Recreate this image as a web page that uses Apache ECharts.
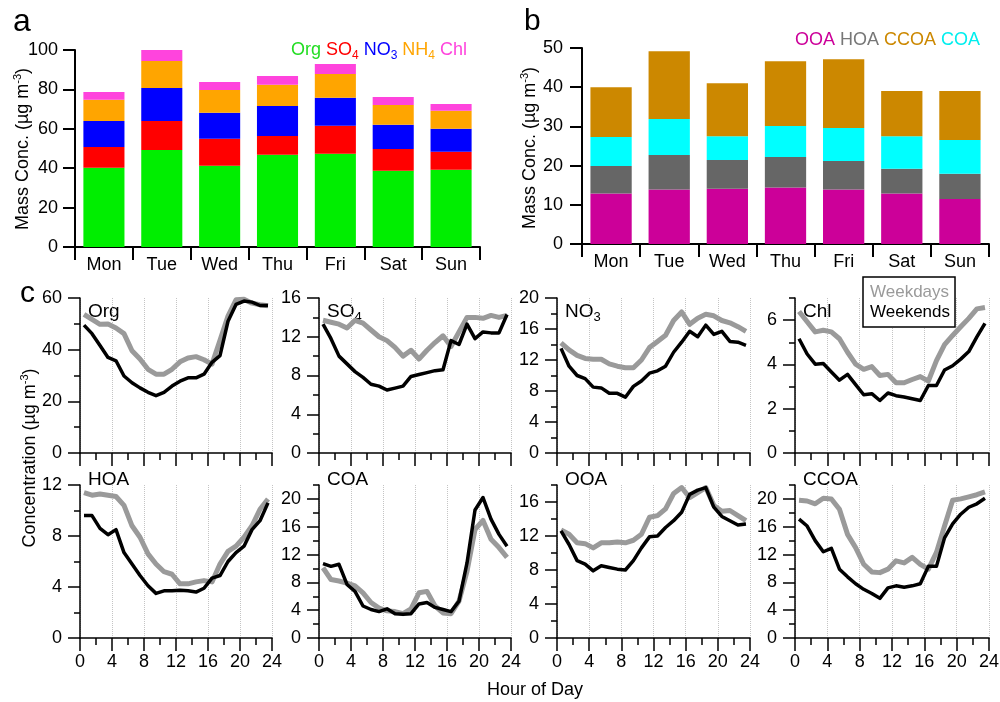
<!DOCTYPE html>
<html><head><meta charset="utf-8">
<script src="https://cdn.jsdelivr.net/npm/echarts@6/dist/echarts.min.js"></script>
<style>html,body{margin:0;padding:0;background:#fff}#chart{width:1000px;height:702px}</style>
</head><body><div id="chart"></div>
<script>
const F = '"Liberation Sans", Arial, sans-serif';

// ---- Panel a: PM1 species by day of week (µg m-3)
const days = ['Mon', 'Tue', 'Wed', 'Thu', 'Fri', 'Sat', 'Sun'];
const orgA = [40.2, 49.3, 41.2, 46.8, 47.3, 38.7, 39.2];
const so4A = [10.6, 14.7, 13.7, 9.6, 14.2, 11.1, 9.1];
const no3A = [13.2, 16.7, 13.2, 15.2, 14.2, 12.2, 11.7];
const nh4A = [10.7, 13.7, 11.6, 10.7, 12.1, 10.1, 9.1];
const chlA = [4.0, 5.6, 4.1, 4.5, 5.1, 4.1, 3.5];

// ---- Panel b: OA factors by day of week (µg m-3)
const ooaB = [12.9, 13.9, 14.1, 14.4, 13.9, 12.9, 11.5];
const hoaB = [7.0, 8.8, 7.3, 7.8, 7.3, 6.3, 6.4];
const coaB = [7.4, 9.2, 6.1, 7.9, 8.4, 8.3, 8.6];
const ccoaB = [12.7, 17.3, 13.5, 16.5, 17.5, 11.5, 12.5];

// ---- Panel c: diurnal cycles, hour of day (bin start), weekdays vs weekends
const hours = [0,1,2,3,4,5,6,7,8,9,10,11,12,13,14,15,16,17,18,19,20,21,22,23];
const orgWd = [53.7, 51.7, 49.8, 49.9, 48.4, 46.2, 39.6, 36.4, 32.4, 30.5, 30.5, 32.4, 35.3, 36.8, 37.3, 36.1, 34.4, 43.6, 53.0, 59.3, 59.5, 58.0, 57.4, 57.0];
const orgWe = [49.5, 46.2, 41.6, 37.0, 35.7, 29.8, 27.2, 25.2, 23.5, 22.2, 23.5, 25.9, 27.8, 29.1, 29.1, 30.5, 35.1, 37.7, 51.0, 57.5, 58.8, 58.4, 57.1, 57.1];
const so4Wd = [13.7, 13.5, 13.3, 12.9, 13.7, 13.4, 12.7, 12.0, 11.6, 10.9, 10.0, 10.6, 9.7, 10.6, 11.4, 12.1, 11.0, 12.5, 14.0, 14.0, 13.9, 14.2, 14.0, 14.2];
const so4We = [13.3, 11.8, 10.0, 9.2, 8.4, 7.8, 7.1, 6.9, 6.5, 6.7, 6.9, 7.9, 8.1, 8.3, 8.5, 8.6, 11.6, 11.2, 13.3, 11.8, 12.5, 12.4, 12.4, 14.3];
const no3Wd = [14.2, 13.3, 12.6, 12.2, 12.1, 12.1, 11.5, 11.2, 11.0, 11.0, 12.0, 13.6, 14.4, 15.2, 17.1, 18.2, 16.6, 17.4, 17.9, 17.7, 17.1, 16.8, 16.3, 15.7];
const no3We = [13.5, 11.2, 10.0, 9.6, 8.5, 8.4, 7.7, 7.7, 7.2, 8.6, 9.3, 10.3, 10.6, 11.2, 13.0, 14.3, 15.7, 15.0, 16.5, 15.3, 15.7, 14.4, 14.3, 13.9];
const chlWd = [6.39, 5.93, 5.47, 5.54, 5.47, 5.16, 4.55, 4.01, 3.78, 3.90, 3.50, 3.55, 3.17, 3.17, 3.32, 3.45, 3.25, 4.17, 4.89, 5.31, 5.70, 6.08, 6.51, 6.57];
const chlWe = [5.16, 4.47, 4.01, 4.04, 3.66, 3.29, 3.55, 3.09, 2.63, 2.68, 2.37, 2.71, 2.59, 2.53, 2.45, 2.37, 3.05, 3.05, 3.75, 3.94, 4.24, 4.58, 5.24, 5.85];
const hoaWd = [11.4, 11.2, 11.3, 11.2, 11.1, 10.4, 8.8, 7.9, 6.6, 5.8, 5.2, 5.0, 4.25, 4.25, 4.4, 4.5, 4.4, 5.8, 6.8, 7.2, 7.9, 8.8, 10.1, 10.9];
const hoaWe = [9.6, 9.6, 8.6, 8.1, 8.5, 6.7, 5.8, 4.9, 4.1, 3.5, 3.7, 3.7, 3.75, 3.7, 3.6, 3.9, 4.7, 4.9, 6.0, 6.7, 7.2, 8.5, 9.2, 10.6];
const coaWd = [10.1, 8.4, 8.2, 7.9, 7.5, 6.5, 5.1, 4.3, 3.9, 3.8, 3.5, 4.2, 6.5, 6.7, 4.6, 3.6, 3.5, 5.3, 9.6, 15.6, 16.9, 14.2, 13.0, 11.6];
const coaWe = [10.7, 10.3, 10.6, 7.7, 6.7, 4.6, 4.1, 3.8, 4.2, 3.5, 3.4, 3.5, 4.9, 5.1, 4.4, 4.1, 3.8, 5.3, 10.8, 18.4, 20.2, 17.1, 14.9, 13.2];
const ooaWd = [12.7, 12.2, 11.2, 11.1, 10.6, 11.2, 11.2, 11.3, 11.2, 11.5, 12.2, 14.2, 14.4, 15.2, 17.0, 17.7, 16.5, 17.1, 17.7, 15.6, 14.9, 15.0, 14.4, 13.8];
const ooaWe = [12.6, 11.0, 9.1, 8.7, 7.9, 8.5, 8.3, 8.1, 8.0, 9.1, 10.6, 11.9, 12.0, 13.0, 13.8, 14.8, 16.9, 17.4, 17.7, 15.4, 14.3, 13.8, 13.3, 13.4];
const ccoaWd = [19.8, 19.7, 19.3, 20.1, 20.0, 18.5, 14.9, 13.0, 10.6, 9.5, 9.4, 9.9, 11.1, 10.8, 11.6, 10.6, 9.9, 12.3, 16.1, 19.8, 20.0, 20.3, 20.6, 21.0];
const ccoaWe = [17.1, 16.1, 14.0, 12.4, 12.9, 9.9, 8.8, 7.8, 7.0, 6.4, 5.7, 7.2, 7.5, 7.3, 7.5, 7.8, 10.3, 10.3, 14.4, 16.4, 17.8, 18.8, 19.3, 20.1];

// axis tick settings for the eight small panels
const panelNames = ['Org', 'SO{s|4}', 'NO{s|3}', 'Chl', 'HOA', 'COA', 'OOA', 'CCOA'];
const panelMax = [60, 16, 20, 7, 12, 22, 18, 22];
const panelMinorStep = [10, 2, 2, 1, 2, 2, 2, 2];
const panelMajorTicks = [
  [0, 20, 40, 60], [0, 4, 8, 12, 16], [0, 4, 8, 12, 16, 20], [0, 2, 4, 6],
  [0, 4, 8, 12], [0, 4, 8, 12, 16, 20], [0, 4, 8, 12, 16], [0, 4, 8, 12, 16, 20]
];
const weekdaySeries = [orgWd, so4Wd, no3Wd, chlWd, hoaWd, coaWd, ooaWd, ccoaWd];
const weekendSeries = [orgWe, so4We, no3We, chlWe, hoaWe, coaWe, ooaWe, ccoaWe];
const hourTicks = [0, 4, 8, 12, 16, 20, 24];

// layout
const colLeft = [80, 319, 557, 795];
const colWidth = [192, 192, 193, 194];
const rowTop = [298, 485];
const rowHeight = [155, 153];

const black = '#000';
const lineS = (w) => ({ color: black, width: w });

const grids = [
  { left: 75, top: 50, width: 405, height: 197, containLabel: false, outerBoundsMode: 'none' },
  { left: 582, top: 48, width: 407, height: 196, containLabel: false, outerBoundsMode: 'none' }
];
const xAxes = [
  { gridIndex: 0, type: 'category', data: days,
    axisLine: { show: true, lineStyle: lineS(2) },
    axisTick: { show: true, length: 13, alignWithLabel: false, lineStyle: lineS(2) },
    axisLabel: { fontSize: 18, color: black, fontFamily: F, margin: 9 },
    splitLine: { show: false } },
  { gridIndex: 1, type: 'category', data: days,
    axisLine: { show: true, lineStyle: lineS(2) },
    axisTick: { show: true, length: 13, alignWithLabel: false, lineStyle: lineS(2) },
    axisLabel: { fontSize: 18, color: black, fontFamily: F, margin: 9 },
    splitLine: { show: false } }
];
const yAxes = [
  { gridIndex: 0, type: 'value', min: 0, max: 100, interval: 20,
    axisLine: { show: true, lineStyle: lineS(2) },
    axisTick: { show: true, length: 12, lineStyle: lineS(2) },
    axisLabel: { fontSize: 18, color: black, fontFamily: F, margin: 17 },
    splitLine: { show: false } },
  { gridIndex: 1, type: 'value', min: 0, max: 50, interval: 10,
    axisLine: { show: true, lineStyle: lineS(2) },
    axisTick: { show: true, length: 12, lineStyle: lineS(2) },
    axisLabel: { fontSize: 18, color: black, fontFamily: F, margin: 19 },
    splitLine: { show: false } }
];

const series = [];
const barCommon = { type: 'bar', barCategoryGap: '29%', animation: false, silent: true };
[['Org', orgA, '#00ee00'], ['SO4', so4A, '#ff0000'], ['NO3', no3A, '#0000ff'],
 ['NH4', nh4A, '#ffa500'], ['Chl', chlA, '#ff44dd']].forEach(([n, d, c]) => {
  series.push(Object.assign({}, barCommon, { name: n, stack: 'a', xAxisIndex: 0, yAxisIndex: 0, data: d, itemStyle: { color: c } }));
});
[['OOA', ooaB, '#cc0099'], ['HOA', hoaB, '#666666'], ['COA', coaB, '#00ffff'],
 ['CCOA', ccoaB, '#cc8800']].forEach(([n, d, c]) => {
  series.push(Object.assign({}, barCommon, { name: n, stack: 'b', xAxisIndex: 1, yAxisIndex: 1, data: d, itemStyle: { color: c } }));
});

const graphics = [];
const richSub = { s: { fontSize: 13, fontFamily: F, lineHeight: 13, verticalAlign: 'bottom' } };

for (let p = 0; p < 8; p++) {
  const row = p < 4 ? 0 : 1, col = p % 4;
  const g = grids.length;
  grids.push({ left: colLeft[col], top: rowTop[row], width: colWidth[col], height: rowHeight[row], containLabel: false, outerBoundsMode: 'none' });
  const xMain = xAxes.length;
  xAxes.push({ gridIndex: g, type: 'value', min: 0, max: 24, interval: 2, position: 'bottom',
    axisLine: { show: true, onZero: false, lineStyle: lineS(1.5) },
    axisTick: { show: true, length: 7, lineStyle: lineS(1.5) },
    axisLabel: { show: false }, splitLine: { show: false } });
  xAxes.push({ gridIndex: g, type: 'value', min: 0, max: 24, interval: 4, position: 'bottom',
    axisLine: { show: false, onZero: false },
    axisTick: { show: true, length: 13, lineStyle: lineS(1.5) },
    axisLabel: { show: row === 1, fontSize: 18, color: black, fontFamily: F, margin: 15 },
    splitLine: { show: true, lineStyle: { type: 'dotted', color: '#c4c4c4', width: 1 } } });
  const yMain = yAxes.length;
  yAxes.push({ gridIndex: g, type: 'value', min: 0, max: panelMax[p], interval: panelMinorStep[p], position: 'left',
    axisLine: { show: true, onZero: false, lineStyle: lineS(1.5) },
    axisTick: { show: true, length: 6, lineStyle: lineS(1.5) },
    axisLabel: { show: false }, splitLine: { show: false } });
  yAxes.push({ gridIndex: g, type: 'value', min: 0, max: panelMax[p], interval: panelMinorStep[p], position: 'left',
    axisLine: { show: false, onZero: false },
    axisTick: { show: true, length: 12, customValues: panelMajorTicks[p], lineStyle: lineS(1.5) },
    axisLabel: { show: true, customValues: panelMajorTicks[p], fontSize: 18, color: black, fontFamily: F, margin: 18 },
    splitLine: { show: false } });
  series.push({ type: 'line', name: 'Weekdays', xAxisIndex: xMain, yAxisIndex: yMain,
    data: hours.map((h, i) => [h + 0.5, weekdaySeries[p][i]]),
    symbol: 'none', silent: true, animation: false,
    lineStyle: { color: '#9a9a9a', width: 5, join: 'round' }, itemStyle: { color: '#9a9a9a' } });
  series.push({ type: 'line', name: 'Weekends', xAxisIndex: xMain, yAxisIndex: yMain,
    data: hours.map((h, i) => [h + 0.5, weekendSeries[p][i]]),
    symbol: 'none', silent: true, animation: false,
    lineStyle: { color: '#000', width: 3.5, join: 'round' }, itemStyle: { color: '#000' } });
  graphics.push({ type: 'text', x: colLeft[col] + 8, y: row === 0 ? 312 : 480,
    style: { text: panelNames[p], fontSize: 19, fontFamily: F, fill: black, verticalAlign: 'middle', lineHeight: 24, rich: richSub } });
}

const supRich = { sup: { fontSize: 11, fontFamily: F, lineHeight: 11, verticalAlign: 'top' } };
graphics.push(
  { type: 'text', x: 13, y: 22, style: { text: 'a', fontSize: 32, fontFamily: F, fill: black, verticalAlign: 'middle' } },
  { type: 'text', x: 524, y: 22, style: { text: 'b', fontSize: 30, fontFamily: F, fill: black, verticalAlign: 'middle' } },
  { type: 'text', x: 20, y: 294, style: { text: 'c', fontSize: 30, fontFamily: F, fill: black, verticalAlign: 'middle' } },
  { type: 'text', x: 23, y: 149, rotation: Math.PI / 2,
    style: { text: 'Mass Conc. (µg m{sup|-3})', fontSize: 18, fontFamily: F, fill: black, align: 'center', verticalAlign: 'middle', lineHeight: 22, rich: supRich } },
  { type: 'text', x: 530, y: 148, rotation: Math.PI / 2,
    style: { text: 'Mass Conc. (µg m{sup|-3})', fontSize: 18, fontFamily: F, fill: black, align: 'center', verticalAlign: 'middle', lineHeight: 22, rich: supRich } },
  { type: 'text', x: 30, y: 458, rotation: Math.PI / 2,
    style: { text: 'Concentration (µg m{sup|-3})', fontSize: 18, fontFamily: F, fill: black, align: 'center', verticalAlign: 'middle', lineHeight: 22, rich: supRich } },
  { type: 'text', x: 535, y: 690,
    style: { text: 'Hour of Day', fontSize: 18, fontFamily: F, fill: black, align: 'center', verticalAlign: 'middle' } }
);

const legendRich = { s: { fontSize: 12, fontFamily: F, lineHeight: 12, verticalAlign: 'bottom' } };
const legends = [
  { selectedMode: false, left: 286, top: 38, padding: 0, itemGap: 0, itemWidth: 0, itemHeight: 0, icon: 'rect',
    formatter: (n) => n.replace(/(\d)$/, '{s|$1}'),
    textStyle: { fontSize: 18, fontFamily: F, lineHeight: 24, rich: legendRich },
    data: [{ name: 'Org', textStyle: { color: '#22dd22' } }, { name: 'SO4', textStyle: { color: '#ff0000' } },
           { name: 'NO3', textStyle: { color: '#0000ff' } }, { name: 'NH4', textStyle: { color: '#ffa500' } },
           { name: 'Chl', textStyle: { color: '#ff44dd' } }] },
  { selectedMode: false, left: 790, top: 28, padding: 0, itemGap: 0, itemWidth: 0, itemHeight: 0, icon: 'rect',
    textStyle: { fontSize: 18, fontFamily: F, lineHeight: 24 },
    data: [{ name: 'OOA', textStyle: { color: '#cc0099' } }, { name: 'HOA', textStyle: { color: '#777777' } },
           { name: 'CCOA', textStyle: { color: '#cc8800' } }, { name: 'COA', textStyle: { color: '#00eeee' } }] },
  { selectedMode: false, orient: 'vertical', left: 863, top: 277, padding: [5, 5, 5, 2], itemGap: 0,
    itemWidth: 0, itemHeight: 0, icon: 'rect', borderColor: '#000', borderWidth: 1.5, backgroundColor: '#fff',
    textStyle: { fontSize: 17, fontFamily: F, lineHeight: 20 },
    data: [{ name: 'Weekdays', textStyle: { color: '#9a9a9a' } }, { name: 'Weekends', textStyle: { color: '#000' } }] }
];

const chart = echarts.init(document.getElementById('chart'), null, { renderer: 'canvas' });
chart.setOption({
  animation: false,
  backgroundColor: '#fff',
  textStyle: { fontFamily: F },
  grid: grids, xAxis: xAxes, yAxis: yAxes, series: series,
  legend: legends, graphic: graphics
});
</script></body></html>
